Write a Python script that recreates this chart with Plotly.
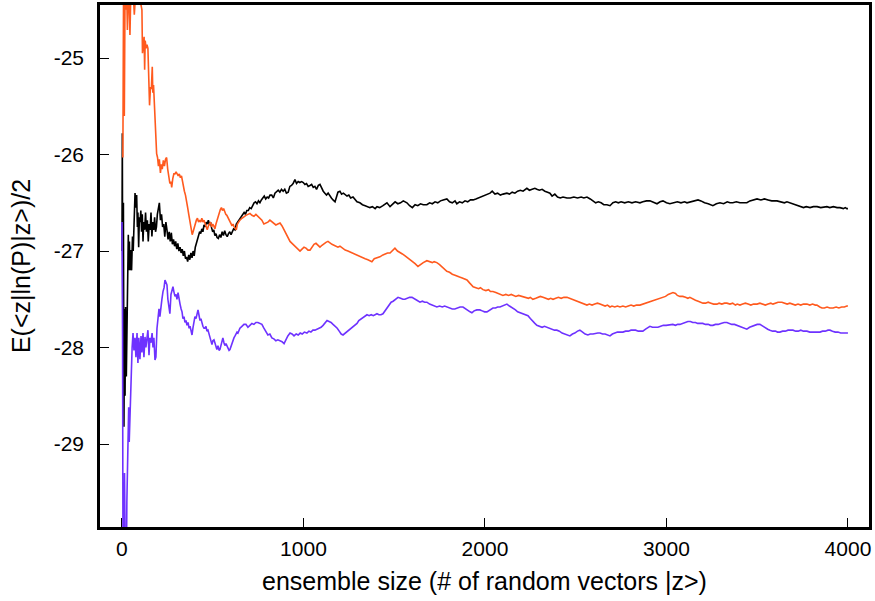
import plotly.graph_objects as go

# ---------------- data ----------------
black_x = [0, 2, 5, 8, 11, 14, 17, 20, 24, 28, 32, 35, 38, 41, 44, 48, 53, 58, 62, 67, 72, 77, 81, 85, 88, 92, 96, 100, 104, 108, 112, 116, 120, 125, 130, 135, 140, 145, 150, 155, 160, 165, 170, 175, 180, 185, 190, 195, 200, 206, 212, 218, 224, 230, 236, 242, 248, 254, 260, 266, 272, 278, 284, 290, 296, 302, 308, 314, 320, 326, 332, 338, 344, 350, 356, 362, 368, 374, 380, 386, 392, 398, 404, 410, 416, 422, 428, 434, 440, 446, 452, 458, 464, 470, 476, 482, 488, 494, 500, 506, 512, 518, 524, 531, 538, 545, 552, 559, 566, 573, 580, 587, 594, 601, 608, 615, 623, 630, 637, 644, 651, 659, 666, 673, 680, 688, 696, 704, 712, 720, 728, 736, 744, 752, 760, 768, 776, 784, 792, 800, 808, 816, 825, 834, 843, 852, 861, 870, 879, 888, 897, 906, 916, 925, 934, 943, 953, 962, 971, 980, 990, 999, 1008, 1017, 1026, 1036, 1045, 1054, 1063, 1072, 1082, 1091, 1100, 1109, 1118, 1127, 1136, 1145, 1154, 1163, 1174, 1182, 1190, 1201, 1210, 1220, 1230, 1240, 1250, 1260, 1273, 1285, 1295, 1311, 1325, 1340, 1355, 1366, 1380, 1395, 1405, 1420, 1438, 1450, 1460, 1477, 1490, 1505, 1520, 1535, 1550, 1570, 1585, 1600, 1615, 1630, 1645, 1660, 1680, 1695, 1710, 1725, 1740, 1755, 1770, 1790, 1805, 1820, 1835, 1845, 1860, 1875, 1890, 1905, 1920, 1935, 1950, 1965, 1980, 1995, 2010, 2028, 2040, 2055, 2070, 2085, 2100, 2121, 2135, 2150, 2165, 2180, 2195, 2210, 2231, 2245, 2260, 2275, 2286, 2300, 2315, 2330, 2345, 2358, 2370, 2385, 2400, 2415, 2430, 2452, 2470, 2490, 2510, 2530, 2545, 2562, 2580, 2595, 2610, 2625, 2640, 2655, 2672, 2689, 2705, 2720, 2735, 2750, 2770, 2790, 2810, 2830, 2854, 2870, 2890, 2909, 2930, 2948, 2965, 2981, 3000, 3019, 3040, 3060, 3080, 3100, 3113, 3130, 3150, 3174, 3190, 3210, 3230, 3256, 3275, 3295, 3315, 3335, 3350, 3366, 3385, 3405, 3425, 3443, 3460, 3480, 3499, 3520, 3540, 3560, 3580, 3609, 3630, 3650, 3664, 3680, 3700, 3720, 3736, 3755, 3770, 3791, 3810, 3830, 3850, 3870, 3884, 3900, 3920, 3940, 3956, 3975, 3985, 3994, 4000]
black_y = [-27.0, -25.78, -28.2, -26.5, -28.82, -27.6, -28.5, -27.58, -28.3, -27.75, -27.3, -26.83, -27.2, -26.9, -27.2, -26.99, -27.2, -26.85, -27.0, -26.7, -26.4, -26.55, -26.42, -26.75, -26.6, -26.96, -26.65, -26.7, -26.58, -26.8, -26.62, -26.9, -26.7, -26.78, -26.6, -26.8, -26.68, -26.9, -26.72, -26.78, -26.6, -26.85, -26.7, -26.78, -26.65, -26.8, -26.75, -26.62, -26.55, -26.5, -26.68, -26.62, -26.75, -26.72, -26.85, -26.7, -26.78, -26.88, -26.8, -26.9, -26.81, -26.93, -26.88, -26.95, -26.9, -26.98, -26.92, -27.0, -26.96, -27.02, -26.98, -27.05, -27.0, -27.08, -27.06, -27.11, -27.04, -27.09, -27.02, -27.07, -27.0, -27.05, -26.96, -26.92, -26.89, -26.85, -26.8, -26.82, -26.77, -26.8, -26.73, -26.75, -26.7, -26.72, -26.68, -26.73, -26.7, -26.76, -26.8, -26.78, -26.84, -26.82, -26.86, -26.87, -26.83, -26.86, -26.8, -26.84, -26.79, -26.83, -26.85, -26.82, -26.8, -26.83, -26.79, -26.77, -26.78, -26.72, -26.7, -26.68, -26.66, -26.65, -26.63, -26.6, -26.62, -26.58, -26.58, -26.55, -26.56, -26.52, -26.5, -26.49, -26.51, -26.48, -26.5, -26.47, -26.45, -26.43, -26.46, -26.44, -26.45, -26.42, -26.42, -26.45, -26.4, -26.38, -26.37, -26.39, -26.36, -26.38, -26.36, -26.4, -26.39, -26.33, -26.32, -26.3, -26.26, -26.3, -26.28, -26.29, -26.28, -26.29, -26.31, -26.3, -26.33, -26.32, -26.31, -26.34, -26.33, -26.36, -26.32, -26.31, -26.35, -26.38, -26.4, -26.42, -26.4, -26.43, -26.45, -26.47, -26.49, -26.44, -26.39, -26.38, -26.41, -26.4, -26.42, -26.43, -26.42, -26.45, -26.44, -26.47, -26.49, -26.5, -26.52, -26.53, -26.54, -26.55, -26.54, -26.56, -26.54, -26.55, -26.53, -26.51, -26.5, -26.54, -26.52, -26.49, -26.51, -26.5, -26.48, -26.5, -26.53, -26.55, -26.52, -26.53, -26.51, -26.52, -26.52, -26.5, -26.51, -26.49, -26.5, -26.48, -26.47, -26.46, -26.49, -26.5, -26.48, -26.51, -26.49, -26.5, -26.48, -26.49, -26.47, -26.47, -26.46, -26.45, -26.44, -26.43, -26.42, -26.4, -26.38, -26.41, -26.4, -26.42, -26.41, -26.4, -26.41, -26.39, -26.4, -26.38, -26.37, -26.38, -26.35, -26.37, -26.36, -26.35, -26.36, -26.37, -26.36, -26.38, -26.39, -26.4, -26.43, -26.41, -26.44, -26.45, -26.44, -26.45, -26.45, -26.44, -26.45, -26.44, -26.45, -26.44, -26.46, -26.48, -26.5, -26.49, -26.5, -26.52, -26.52, -26.53, -26.5, -26.49, -26.5, -26.49, -26.5, -26.49, -26.5, -26.49, -26.5, -26.49, -26.48, -26.48, -26.5, -26.51, -26.49, -26.48, -26.5, -26.51, -26.5, -26.49, -26.5, -26.49, -26.5, -26.49, -26.48, -26.47, -26.48, -26.5, -26.51, -26.53, -26.51, -26.5, -26.51, -26.49, -26.5, -26.5, -26.49, -26.5, -26.5, -26.5, -26.48, -26.47, -26.46, -26.47, -26.46, -26.47, -26.48, -26.48, -26.49, -26.5, -26.49, -26.5, -26.52, -26.53, -26.54, -26.55, -26.54, -26.55, -26.54, -26.54, -26.55, -26.54, -26.54, -26.55, -26.54, -26.55, -26.55, -26.56, -26.55, -26.56, -26.56]

orange_x = [5, 9, 13, 17, 22, 26, 30, 35, 40, 44, 48, 53, 58, 63, 68, 73, 80, 88, 95, 100, 105, 110, 113, 117, 122, 125, 128, 133, 138, 143, 148, 152, 157, 162, 167, 170, 174, 178, 182, 186, 191, 196, 201, 206, 212, 217, 222, 228, 234, 240, 246, 252, 258, 264, 270, 274, 280, 286, 292, 298, 304, 310, 316, 322, 328, 334, 338, 344, 350, 356, 362, 368, 374, 380, 384, 387, 392, 398, 404, 410, 416, 422, 428, 434, 440, 446, 452, 458, 464, 470, 476, 482, 488, 494, 500, 506, 512, 518, 524, 530, 536, 542, 548, 554, 560, 566, 572, 578, 584, 590, 596, 602, 606, 612, 618, 624, 630, 636, 642, 650, 661, 672, 683, 694, 705, 716, 727, 738, 749, 760, 771, 782, 793, 804, 815, 826, 837, 848, 859, 871, 882, 893, 903, 914, 926, 937, 948, 958, 969, 981, 992, 1003, 1014, 1025, 1036, 1047, 1058, 1069, 1080, 1091, 1102, 1113, 1124, 1135, 1146, 1157, 1168, 1179, 1190, 1201, 1215, 1230, 1245, 1256, 1270, 1285, 1300, 1311, 1325, 1340, 1355, 1366, 1377, 1390, 1405, 1421, 1438, 1450, 1463, 1477, 1490, 1504, 1518, 1532, 1545, 1560, 1575, 1587, 1600, 1615, 1631, 1645, 1660, 1680, 1695, 1710, 1720, 1735, 1750, 1765, 1778, 1790, 1805, 1820, 1835, 1845, 1860, 1875, 1890, 1901, 1915, 1925, 1935, 1950, 1965, 1975, 1989, 2005, 2020, 2030, 2044, 2060, 2075, 2085, 2099, 2115, 2130, 2145, 2154, 2170, 2185, 2200, 2209, 2225, 2240, 2250, 2264, 2280, 2295, 2305, 2320, 2335, 2350, 2362, 2375, 2390, 2405, 2420, 2435, 2452, 2465, 2480, 2495, 2507, 2520, 2535, 2548, 2562, 2575, 2590, 2605, 2620, 2634, 2650, 2662, 2675, 2689, 2700, 2715, 2730, 2744, 2760, 2775, 2790, 2805, 2820, 2835, 2854, 2870, 2885, 2900, 2915, 2926, 2940, 2955, 2970, 2981, 2995, 3010, 3025, 3036, 3050, 3060, 3074, 3090, 3105, 3118, 3129, 3145, 3160, 3175, 3190, 3201, 3215, 3230, 3245, 3260, 3278, 3290, 3305, 3320, 3333, 3350, 3365, 3380, 3390, 3405, 3420, 3435, 3450, 3465, 3480, 3499, 3515, 3530, 3545, 3560, 3575, 3587, 3600, 3615, 3636, 3650, 3665, 3680, 3697, 3710, 3725, 3740, 3755, 3774, 3790, 3805, 3820, 3829, 3845, 3857, 3870, 3885, 3900, 3918, 3935, 3950, 3965, 3980, 3994, 4000]
orange_y = [-26.03, -24.2, -25.6, -24.3, -24.5, -24.3, -24.71, -24.3, -24.45, -24.76, -24.4, -24.3, -24.4, -24.35, -24.55, -24.4, -24.35, -24.38, -24.4, -24.4, -24.45, -24.5, -24.95, -24.85, -24.78, -25.12, -24.82, -24.9, -24.86, -24.9, -25.2, -25.49, -25.3, -25.32, -25.09, -25.36, -25.28, -25.45, -25.6, -25.75, -25.99, -26.03, -26.12, -26.05, -26.19, -26.1, -26.15, -26.06, -26.12, -26.05, -26.03, -26.15, -26.25, -26.3, -26.28, -26.34, -26.25, -26.2, -26.2, -26.18, -26.2, -26.22, -26.2, -26.24, -26.22, -26.3, -26.34, -26.38, -26.42, -26.47, -26.55, -26.62, -26.68, -26.75, -26.8, -26.83, -26.8, -26.75, -26.72, -26.68, -26.66, -26.7, -26.68, -26.7, -26.66, -26.7, -26.68, -26.72, -26.75, -26.78, -26.74, -26.72, -26.7, -26.75, -26.72, -26.74, -26.77, -26.72, -26.68, -26.65, -26.6, -26.57, -26.55, -26.58, -26.56, -26.6, -26.62, -26.63, -26.65, -26.68, -26.7, -26.72, -26.74, -26.72, -26.75, -26.76, -26.78, -26.72, -26.7, -26.68, -26.66, -26.64, -26.63, -26.62, -26.61, -26.63, -26.64, -26.62, -26.64, -26.65, -26.68, -26.72, -26.71, -26.7, -26.68, -26.7, -26.72, -26.73, -26.72, -26.71, -26.74, -26.78, -26.82, -26.85, -26.9, -26.92, -26.94, -26.96, -26.98, -27.0, -26.98, -26.96, -26.97, -26.99, -26.99, -26.96, -26.93, -26.92, -26.94, -26.96, -26.94, -26.92, -26.91, -26.9, -26.92, -26.93, -26.94, -26.95, -26.96, -26.95, -26.97, -26.99, -27.0, -27.01, -27.02, -27.03, -27.05, -27.06, -27.07, -27.08, -27.09, -27.1, -27.11, -27.08, -27.07, -27.06, -27.04, -27.03, -27.02, -27.02, -26.99, -26.97, -27.0, -27.02, -27.03, -27.05, -27.07, -27.09, -27.11, -27.13, -27.16, -27.14, -27.12, -27.1, -27.11, -27.12, -27.11, -27.12, -27.14, -27.17, -27.19, -27.21, -27.22, -27.24, -27.25, -27.26, -27.27, -27.28, -27.29, -27.3, -27.33, -27.35, -27.37, -27.38, -27.39, -27.38, -27.4, -27.41, -27.4, -27.42, -27.42, -27.43, -27.44, -27.45, -27.46, -27.45, -27.46, -27.45, -27.46, -27.47, -27.46, -27.47, -27.47, -27.48, -27.49, -27.48, -27.5, -27.49, -27.48, -27.47, -27.48, -27.49, -27.5, -27.49, -27.5, -27.49, -27.48, -27.49, -27.48, -27.48, -27.49, -27.5, -27.51, -27.52, -27.53, -27.54, -27.55, -27.56, -27.55, -27.56, -27.55, -27.54, -27.55, -27.56, -27.57, -27.56, -27.58, -27.57, -27.58, -27.57, -27.58, -27.57, -27.58, -27.57, -27.56, -27.57, -27.56, -27.56, -27.55, -27.54, -27.53, -27.52, -27.51, -27.5, -27.49, -27.48, -27.48, -27.47, -27.45, -27.44, -27.43, -27.44, -27.46, -27.47, -27.47, -27.48, -27.49, -27.48, -27.5, -27.51, -27.52, -27.53, -27.54, -27.54, -27.53, -27.54, -27.55, -27.55, -27.54, -27.55, -27.54, -27.54, -27.55, -27.54, -27.56, -27.55, -27.56, -27.55, -27.54, -27.55, -27.56, -27.55, -27.55, -27.54, -27.55, -27.56, -27.55, -27.54, -27.55, -27.54, -27.53, -27.53, -27.54, -27.55, -27.54, -27.55, -27.56, -27.55, -27.56, -27.55, -27.55, -27.56, -27.55, -27.56, -27.56, -27.58, -27.59, -27.59, -27.58, -27.59, -27.59, -27.58, -27.59, -27.58, -27.58, -27.57, -27.57]

purple_x = [0, 3, 6, 10, 14, 18, 22, 27, 31, 34, 37, 40, 44, 50, 56, 61, 66, 72, 77, 83, 88, 93, 99, 105, 110, 116, 121, 127, 132, 138, 143, 149, 154, 160, 166, 171, 176, 182, 187, 193, 198, 204, 209, 215, 220, 226, 232, 237, 242, 248, 253, 259, 264, 270, 275, 281, 286, 292, 298, 303, 309, 315, 320, 326, 331, 336, 342, 347, 353, 358, 364, 370, 375, 380, 386, 391, 397, 402, 408, 413, 419, 424, 430, 435, 441, 446, 452, 457, 463, 468, 474, 480, 485, 490, 496, 501, 507, 512, 518, 523, 529, 535, 540, 546, 551, 556, 562, 567, 573, 579, 584, 590, 595, 601, 606, 612, 617, 623, 628, 634, 639, 645, 650, 661, 672, 683, 694, 705, 716, 727, 738, 749, 760, 771, 782, 793, 804, 815, 826, 837, 848, 859, 871, 882, 893, 903, 914, 926, 937, 948, 960, 971, 982, 993, 1005, 1019, 1030, 1041, 1052, 1063, 1075, 1086, 1097, 1108, 1120, 1130, 1141, 1152, 1163, 1175, 1186, 1197, 1208, 1218, 1230, 1240, 1252, 1263, 1273, 1285, 1295, 1305, 1318, 1330, 1340, 1350, 1362, 1373, 1385, 1395, 1405, 1416, 1427, 1438, 1449, 1460, 1472, 1483, 1494, 1505, 1515, 1521, 1535, 1548, 1559, 1570, 1585, 1598, 1610, 1625, 1642, 1655, 1668, 1680, 1695, 1710, 1722, 1735, 1750, 1765, 1778, 1790, 1805, 1820, 1834, 1848, 1863, 1879, 1893, 1908, 1918, 1928, 1940, 1955, 1972, 1985, 1998, 2011, 2025, 2044, 2058, 2070, 2083, 2095, 2108, 2121, 2135, 2145, 2154, 2168, 2180, 2193, 2208, 2222, 2237, 2250, 2262, 2275, 2286, 2300, 2315, 2328, 2341, 2355, 2370, 2383, 2396, 2410, 2425, 2440, 2455, 2468, 2482, 2495, 2510, 2523, 2538, 2552, 2567, 2580, 2595, 2610, 2622, 2634, 2648, 2662, 2676, 2689, 2702, 2716, 2730, 2744, 2760, 2775, 2790, 2805, 2815, 2830, 2845, 2858, 2870, 2885, 2897, 2909, 2923, 2938, 2953, 2968, 2983, 2998, 3019, 3035, 3050, 3062, 3074, 3090, 3104, 3118, 3132, 3145, 3160, 3172, 3185, 3200, 3215, 3230, 3243, 3256, 3270, 3285, 3300, 3318, 3333, 3348, 3360, 3375, 3388, 3400, 3415, 3430, 3443, 3458, 3472, 3487, 3500, 3515, 3530, 3545, 3558, 3570, 3585, 3600, 3612, 3625, 3640, 3655, 3670, 3685, 3697, 3712, 3726, 3740, 3755, 3774, 3790, 3805, 3820, 3835, 3846, 3860, 3875, 3890, 3901, 3915, 3930, 3945, 3960, 3975, 3985, 3994, 4000]
purple_y = [-26.7, -27.6, -30.5, -30.6, -29.3, -30.8, -30.9, -29.6, -28.99, -28.75, -28.62, -28.98, -28.7, -28.3, -28.0, -27.85, -28.03, -27.9, -28.1, -27.85, -28.16, -27.9, -28.12, -27.88, -28.05, -27.85, -28.1, -27.89, -28.0, -27.9, -27.82, -28.08, -27.9, -27.95, -27.85, -28.0, -27.9, -28.13, -28.1, -27.8, -27.68, -27.6, -27.68, -27.54, -27.5, -27.42, -27.38, -27.3, -27.32, -27.35, -27.5, -27.6, -27.65, -27.45, -27.4, -27.37, -27.42, -27.47, -27.45, -27.5, -27.43, -27.52, -27.55, -27.6, -27.63, -27.7, -27.68, -27.74, -27.72, -27.77, -27.74, -27.8, -27.78, -27.82, -27.87, -27.8, -27.72, -27.68, -27.7, -27.64, -27.61, -27.66, -27.72, -27.7, -27.76, -27.78, -27.8, -27.8, -27.78, -27.83, -27.82, -27.86, -27.9, -27.93, -27.97, -27.93, -27.92, -27.95, -27.99, -28.02, -27.98, -28.03, -28.02, -27.96, -27.92, -27.9, -27.95, -27.98, -27.96, -27.99, -28.02, -28.03, -28.02, -27.98, -27.95, -27.92, -27.9, -27.88, -27.86, -27.84, -27.85, -27.82, -27.8, -27.78, -27.76, -27.76, -27.79, -27.77, -27.75, -27.76, -27.74, -27.74, -27.75, -27.76, -27.8, -27.84, -27.87, -27.86, -27.9, -27.91, -27.93, -27.92, -27.93, -27.94, -27.96, -27.92, -27.88, -27.85, -27.86, -27.88, -27.86, -27.87, -27.85, -27.86, -27.84, -27.85, -27.83, -27.84, -27.82, -27.82, -27.81, -27.8, -27.79, -27.77, -27.74, -27.72, -27.73, -27.74, -27.76, -27.78, -27.8, -27.83, -27.86, -27.87, -27.85, -27.84, -27.82, -27.8, -27.78, -27.76, -27.75, -27.72, -27.7, -27.69, -27.67, -27.66, -27.67, -27.66, -27.67, -27.66, -27.65, -27.66, -27.66, -27.65, -27.62, -27.59, -27.56, -27.53, -27.52, -27.5, -27.49, -27.48, -27.49, -27.5, -27.5, -27.49, -27.48, -27.48, -27.49, -27.51, -27.53, -27.52, -27.53, -27.53, -27.55, -27.56, -27.57, -27.58, -27.57, -27.58, -27.57, -27.58, -27.59, -27.6, -27.6, -27.59, -27.58, -27.58, -27.6, -27.62, -27.63, -27.64, -27.62, -27.61, -27.61, -27.62, -27.63, -27.63, -27.61, -27.59, -27.59, -27.58, -27.58, -27.57, -27.56, -27.55, -27.57, -27.58, -27.59, -27.61, -27.63, -27.64, -27.65, -27.66, -27.67, -27.7, -27.73, -27.75, -27.77, -27.78, -27.79, -27.78, -27.79, -27.8, -27.81, -27.82, -27.82, -27.83, -27.85, -27.86, -27.87, -27.88, -27.86, -27.85, -27.83, -27.82, -27.84, -27.86, -27.87, -27.86, -27.86, -27.85, -27.85, -27.85, -27.86, -27.86, -27.87, -27.88, -27.86, -27.85, -27.84, -27.84, -27.84, -27.83, -27.83, -27.82, -27.82, -27.82, -27.83, -27.83, -27.83, -27.81, -27.79, -27.78, -27.79, -27.79, -27.79, -27.78, -27.77, -27.77, -27.76, -27.76, -27.77, -27.76, -27.76, -27.75, -27.74, -27.73, -27.73, -27.74, -27.74, -27.75, -27.75, -27.75, -27.76, -27.76, -27.77, -27.77, -27.76, -27.76, -27.75, -27.74, -27.74, -27.75, -27.76, -27.76, -27.77, -27.78, -27.79, -27.8, -27.81, -27.79, -27.78, -27.77, -27.76, -27.76, -27.78, -27.8, -27.81, -27.82, -27.83, -27.83, -27.84, -27.84, -27.83, -27.83, -27.82, -27.82, -27.82, -27.83, -27.83, -27.82, -27.83, -27.83, -27.84, -27.84, -27.84, -27.84, -27.84, -27.83, -27.83, -27.82, -27.82, -27.83, -27.84, -27.84, -27.85, -27.85, -27.85, -27.85, -27.85]

x_ticks = [0, 1000, 2000, 3000, 4000]
y_ticks = [-29, -28, -27, -26, -25]
x_title = "ensemble size (# of random vectors |z>)"
y_title = "E(<z|ln(P)|z>)/2"

FONT = "Liberation Sans, Arial, sans-serif"

fig = go.Figure()
fig.add_trace(go.Scatter(x=black_x, y=black_y, mode="lines",
                         line=dict(color="#000000", width=1.6), showlegend=False))
fig.add_trace(go.Scatter(x=orange_x, y=orange_y, mode="lines",
                         line=dict(color="#ff5a1e", width=1.6), showlegend=False))
fig.add_trace(go.Scatter(x=purple_x, y=purple_y, mode="lines",
                         line=dict(color="#6e32ff", width=1.6), showlegend=False))

fig.update_layout(
    width=875, height=601,
    margin=dict(l=100, r=6, t=5, b=74, autoexpand=False),
    paper_bgcolor="white", plot_bgcolor="white",
    font=dict(family=FONT, size=21, color="black"),
    xaxis=dict(range=[-121, 4116], tickvals=x_ticks, ticktext=[str(v) for v in x_ticks],
               ticks="inside", ticklen=9, tickwidth=1.2, tickcolor="black",
               showline=True, linewidth=2.5, linecolor="black", mirror=True,
               showgrid=False, zeroline=False, automargin=False,
               ticklabelstandoff=1,
               title=dict(text=x_title, font=dict(size=25), standoff=14)),
    yaxis=dict(range=[-29.86, -24.45], tickvals=y_ticks, ticktext=[str(v) for v in y_ticks],
               ticks="inside", ticklen=9, tickwidth=1.2, tickcolor="black",
               showline=True, linewidth=2.5, linecolor="black", mirror=True,
               showgrid=False, zeroline=False, automargin=False,
               ticklabelstandoff=9,
               title=dict(text=y_title, font=dict(size=25), standoff=16)),
)

fig.write_html("out.html", config={"displayModeBar": False},
               post_script="document.body.style.margin='0';document.body.style.overflow='hidden';")
